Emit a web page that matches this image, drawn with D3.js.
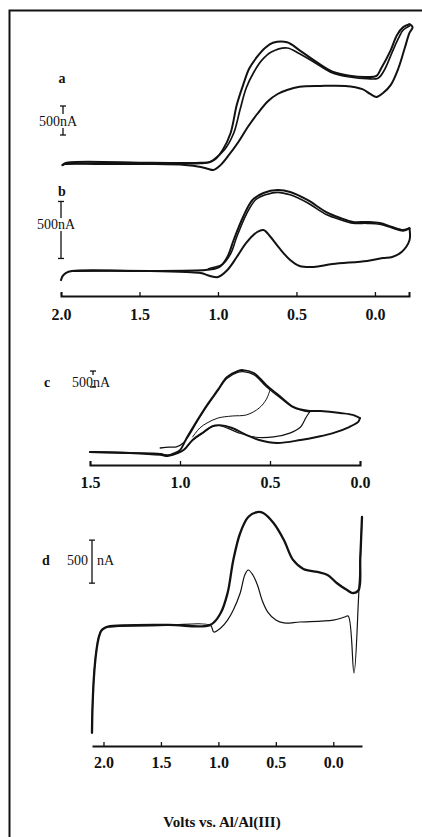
<!DOCTYPE html>
<html>
<head>
<meta charset="utf-8">
<title>Cyclic voltammograms</title>
<script src="https://d3js.org/d3.v7.min.js"></script>
<style>
  body { margin: 0; background: #fff; }
  svg { display: block; }
  text { font-family: "Liberation Serif", "DejaVu Serif", serif; fill: #111; }
</style>
</head>
<body>
<svg width="422" height="837"></svg>
<script>
// every point is [potential in V vs Al/Al(III), current in nA]

// panel a
const aScan1 = [[1.99,-20],[1.97,20],[1.43,20],[1.11,20],[1.05,35],[1.01,100],[0.97,240],[0.92,530],[0.88,1020],[0.84,1360],[0.80,1650],[0.75,1850],[0.70,2000],[0.65,2090],[0.56,2100],[0.48,1960],[0.39,1790],[0.27,1590],[0.16,1520],[0.05,1500],[-0.01,1520],[-0.04,1650],[-0.10,1960],[-0.14,2220],[-0.18,2360],[-0.22,2410]]
const aScan2 = [[1.97,10],[1.43,10],[1.11,10],[1.06,25],[1.03,70],[0.96,240],[0.90,530],[0.86,930],[0.82,1310],[0.77,1590],[0.72,1790],[0.66,1930],[0.56,2000],[0.48,1900],[0.39,1760],[0.27,1570],[0.16,1500],[0.05,1470],[-0.02,1480],[-0.06,1620],[-0.11,1930],[-0.15,2170],[-0.18,2310],[-0.22,2380]]
const aReturn = [[-0.22,2410],[-0.24,2360],[-0.22,2260],[-0.19,2000],[-0.15,1655],[-0.10,1360],[-0.05,1220],[-0.01,1155],[0.03,1207],[0.08,1290],[0.19,1345],[0.35,1345],[0.48,1330],[0.56,1276],[0.62,1207],[0.68,1086],[0.75,862],[0.81,638],[0.87,379],[0.94,121],[0.99,-34],[1.03,-103],[1.06,-86],[1.11,-52],[1.21,-17],[1.43,0],[1.75,0],[1.97,0],[1.99,-17]]

// panel b
const bScan1 = [[2.0,-80],[1.99,-45],[1.97,-18],[1.93,0],[1.43,0],[1.08,9],[1.03,18],[0.99,35],[0.94,123],[0.90,272],[0.84,474],[0.78,623],[0.71,684],[0.62,710],[0.54,693],[0.43,623],[0.31,517],[0.22,465],[0.14,430],[0.05,430],[-0.03,421],[-0.11,386],[-0.18,360],[-0.22,375]]
const bScan2 = [[1.06,20],[1.03,30],[0.97,60],[0.92,150],[0.88,300],[0.82,495],[0.76,625],[0.69,672],[0.62,690],[0.54,668],[0.43,598],[0.31,495],[0.22,450],[0.14,420],[0.05,418],[-0.03,410],[-0.11,378],[-0.18,352],[-0.22,375]]
const bReturn = [[-0.22,375],[-0.22,270],[-0.17,167],[-0.11,123],[-0.05,114],[0.05,88],[0.27,61],[0.39,35],[0.48,44],[0.54,96],[0.61,202],[0.67,307],[0.71,360],[0.75,342],[0.82,246],[0.88,123],[0.94,9],[1.00,-53],[1.05,-44],[1.11,-18],[1.20,-9],[1.43,0],[1.93,0]]

// panel c
const cScan1 = [[1.50,0],[1.28,-30],[1.11,-60],[1.07,-110],[1.04,-60],[1.00,60],[0.96,470],[0.91,940],[0.85,1470],[0.79,1940],[0.74,2340],[0.68,2530],[0.65,2560],[0.59,2470],[0.52,2090],[0.44,1720],[0.37,1410],[0.29,1290],[0.22,1280],[0.11,1220],[0.04,1160],[0.00,1060]]
const cReturn1 = [[0.00,1060],[0.01,940],[0.06,780],[0.15,590],[0.24,470],[0.33,375],[0.46,280],[0.56,375],[0.63,530],[0.71,750],[0.78,840],[0.82,810],[0.87,620],[0.93,375],[0.98,60],[1.04,-90],[1.07,-125],[1.11,-90],[1.28,-30],[1.50,0]]
const cScan2 = [[1.11,125],[1.06,150],[1.02,160],[0.98,290],[0.95,520],[0.91,900],[0.85,1430],[0.79,1910],[0.74,2300],[0.68,2490],[0.65,2510],[0.59,2420],[0.52,2040],[0.44,1680],[0.37,1390],[0.30,1270],[0.28,1250]]
const cReturn2 = [[0.28,1250],[0.30,1080],[0.33,780],[0.39,590],[0.48,470],[0.59,470],[0.67,590],[0.73,730],[0.78,820],[0.82,790],[0.87,600],[0.93,370],[0.98,60],[1.03,-60],[1.07,-100],[1.11,-60]]
const cReturn3 = [[0.50,1940],[0.52,1650],[0.56,1375],[0.63,1160],[0.71,1125],[0.79,1060],[0.85,906],[0.89,750],[0.93,470]]

// panel d
const dScan = [[2.10,-1230],[2.095,-900],[2.08,-500],[2.06,-250],[2.04,-110],[2.02,-40],[1.99,-10],[1.96,0],[1.44,20],[1.07,20],[1.04,-58],[0.98,-12],[0.92,81],[0.87,198],[0.81,395],[0.77,605],[0.74,663],[0.70,605],[0.66,488],[0.62,314],[0.57,174],[0.50,81],[0.43,47],[0.29,58],[0.00,81],[-0.10,116],[-0.13,128],[-0.18,-535],[-0.22,340],[-0.25,1280]]
const dReturn = [[-0.25,1280],[-0.235,800],[-0.22,430],[-0.17,395],[-0.12,430],[-0.03,512],[0.05,605],[0.14,640],[0.26,675],[0.35,780],[0.43,1012],[0.52,1209],[0.61,1326],[0.66,1337],[0.74,1279],[0.81,1093],[0.87,780],[0.92,395],[0.98,163],[1.07,25],[1.44,25],[1.96,5],[1.99,-12],[2.02,-45],[2.04,-115],[2.06,-260],[2.08,-520],[2.095,-910],[2.10,-1230]]

const ticksAB = [2.0, 1.5, 1.0, 0.5, 0.0]
const ticksC = [1.5, 1.0, 0.5, 0.0]
const ticksD = [2.0, 1.5, 1.0, 0.5, 0.0]
const barSize = 500
const axisTitle = "Volts vs. Al/Al(III)"

const svg = d3.select("svg")
const ink = "#121212"
const serif = '"Liberation Serif", "DejaVu Serif", serif'

// page frame (top and left rules of the scanned figure)
svg.append("path")
    .attr("d", "M9.5,837V10.5H422")
    .attr("fill", "none")
    .attr("stroke", ink)
    .attr("stroke-width", 2)

const xAB = d3.scaleLinear().domain([2.0, -0.217]).range([61, 409])
const xC = d3.scaleLinear().domain([1.5, 0.0]).range([90, 360])
const xD = d3.scaleLinear().domain([2.1, -0.25]).range([92, 362])

// each panel has its own current scale, set by its 500 nA bar
const yA = d3.scaleLinear().domain([0, 500]).range([164, 135])
const yB = d3.scaleLinear().domain([0, 500]).range([271, 214])
const yC = d3.scaleLinear().domain([0, 500]).range([452, 436])
const yD = d3.scaleLinear().domain([0, 500]).range([627, 584])

const trace = (x, y, pts, w) => {
    const line = d3.line()
        .x(d => x(d[0]))
        .y(d => y(d[1]))
        .curve(d3.curveCatmullRom.alpha(0.5))
    svg.append("path")
        .datum(pts)
        .attr("fill", "none")
        .attr("stroke", ink)
        .attr("stroke-width", w)
        .attr("stroke-linejoin", "round")
        .attr("stroke-linecap", "round")
        .attr("d", line)
}

const axis = (x, yPos, ticks, pad, outer) => {
    const g = svg.append("g")
        .attr("transform", `translate(0,${yPos})`)
        .call(d3.axisBottom(x)
            .tickValues(ticks)
            .tickFormat(d3.format(".1f"))
            .tickSizeInner(-4)
            .tickSizeOuter(outer)
            .tickPadding(pad))
    g.select(".domain").attr("stroke", ink).attr("stroke-width", 2)
    g.selectAll(".tick line").attr("stroke", ink).attr("stroke-width", 1.3)
    g.selectAll(".tick text")
        .attr("fill", ink)
        .style("font-family", serif)
        .style("font-size", "16px")
        .style("font-weight", "bold")
}

const label = (txt, x, y, size, weight, anchor) => {
    svg.append("text")
        .attr("x", x)
        .attr("y", y)
        .attr("text-anchor", anchor || "start")
        .style("font-size", size + "px")
        .style("font-weight", weight)
        .text(txt)
}

// vertical 500 nA bar with end caps; gap leaves room for the label
const scaleBar = (y, base, xPos, gap) => {
    const top = y(base + barSize), bot = y(base)
    const segs = gap ? [[top, gap[0]], [gap[1], bot]] : [[top, bot]]
    segs.forEach(s => {
        svg.append("line")
            .attr("x1", xPos).attr("x2", xPos)
            .attr("y1", s[0]).attr("y2", s[1])
            .attr("stroke", ink).attr("stroke-width", 1.3)
    })
    ;[top, bot].forEach(v => {
        svg.append("line")
            .attr("x1", xPos - 3).attr("x2", xPos + 3)
            .attr("y1", v).attr("y2", v)
            .attr("stroke", ink).attr("stroke-width", 1.3)
    })
}

// a
trace(xAB, yA, aScan1, 2)
trace(xAB, yA, aScan2, 1.7)
trace(xAB, yA, aReturn, 2)
label("a", 62, 83, 14, "bold", "middle")
scaleBar(yA, 500, 63, [114, 128])
label("500nA", 39, 126, 14, "normal")

// b
trace(xAB, yB, bScan1, 2)
trace(xAB, yB, bScan2, 1.6)
trace(xAB, yB, bReturn, 2)
label("b", 62, 196, 14, "bold", "middle")
scaleBar(yB, 110, 61, [218, 231])
label("500nA", 37, 229, 14, "normal")
axis(xAB, 296, ticksAB, 13, -4)

// c
trace(xC, yC, cScan1, 1.9)
trace(xC, yC, cReturn1, 1.9)
trace(xC, yC, cScan2, 1.3)
trace(xC, yC, cReturn2, 1.2)
trace(xC, yC, cReturn3, 1.0)
label("c", 47, 387, 14, "bold", "middle")
scaleBar(yC, 2030, 93, [375, 386])
label("500nA", 72, 387, 14, "normal")
axis(xC, 465, ticksC, 12, -4)

// d
trace(xD, yD, dScan, 1.2)
trace(xD, yD, dReturn, 2.3)
label("d", 46, 565, 14, "bold", "middle")
scaleBar(yD, 510, 92, null)
label("500", 88, 565, 14, "normal", "end")
label("nA", 97, 565, 14, "normal")
axis(xD, 746, ticksD, 11, 0)

label(axisTitle, 222, 827, 15, "bold", "middle")
</script>
</body>
</html>
